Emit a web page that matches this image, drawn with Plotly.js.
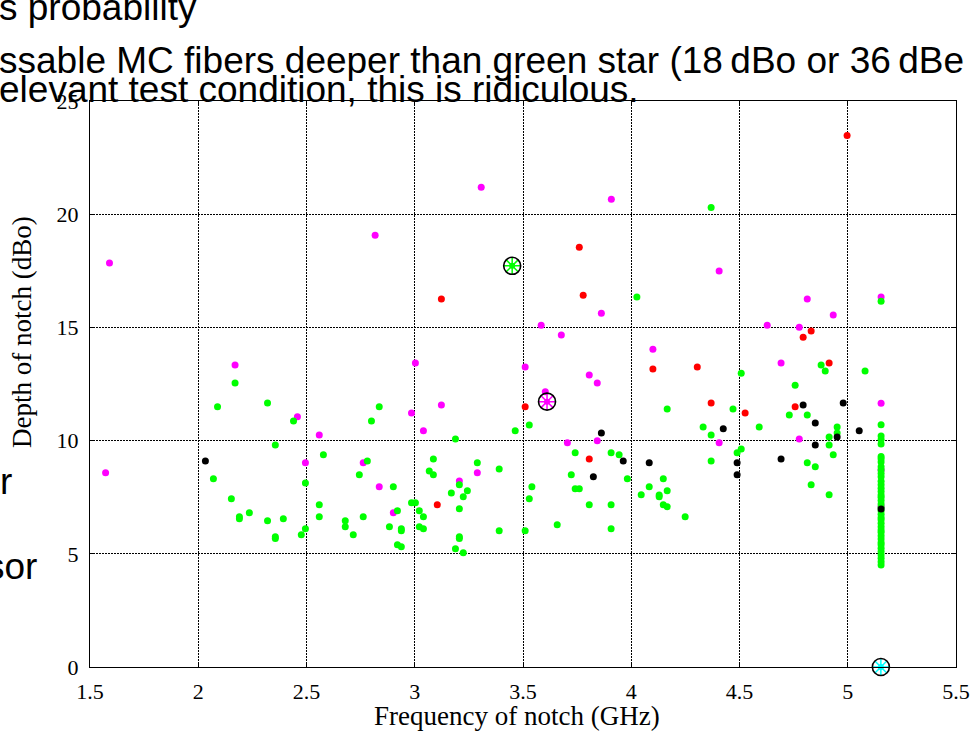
<!DOCTYPE html>
<html><head><meta charset="utf-8">
<script src="https://cdn.plot.ly/plotly-3.0.1.min.js"></script>
<style>body{margin:0;background:#fff}#chart{width:975px;height:737px}</style>
</head><body><div id="chart"></div>
<script>
// ---- data (frequency GHz, depth dBo) ----
const greenX = [2.17,2.089,2.32,2.44,2.356,2.07,2.578,2.495,2.153,2.19,2.19,2.236,2.32,2.393,2.356,2.356,2.476,2.495,2.559,2.559,2.679,2.679,2.716,2.762,2.744,2.781,2.836,2.80,
 3.188,3.529,3.464,3.741,3.907,3.944,3.723,3.982,4.166,4.148,4.083,4.046,4.166,4.129,4.129,4.148,4.166,3.741,3.76,3.806,3.907,3.658,3.907,3.51,3.39,3.541,3.529,3.39,3.289,3.206,3.243,3.224,3.169,3.206,3.206,3.206,3.188,3.224,3.086,3.067,3.086,2.985,3.003,3.021,3.04,3.021,3.04,2.901,2.92,2.883,2.938,2.938,2.92,2.938,
 4.026,4.369,5.154,4.877,4.896,4.508,4.757,5.08,4.47,4.332,4.369,4.369,4.508,4.489,4.591,4.73,4.813,4.813,4.85,4.831,4.914,4.914,4.914,4.933,4.951,4.951,4.249];
const greenY = [12.54,11.49,11.66,10.87,9.81,8.31,9.37,8.13,7.43,6.64,6.55,6.81,6.46,6.55,5.75,5.68,5.84,6.11,7.17,6.64,6.46,6.19,5.84,6.64,8.49,9.1,11.49,10.87,
 10.07,10.69,10.43,9.46,9.46,9.37,8.49,8.31,11.40,8.31,7.96,7.61,7.78,7.6,7.52,7.17,7.08,7.87,7.87,7.17,7.17,6.28,6.11,6.02,6.02,7.96,7.43,8.75,9.02,8.05,7.78,7.52,7.69,6.99,5.75,5.68,5.22,5.05,9.19,8.66,8.49,7.25,7.25,6.9,6.64,6.19,6.11,7.96,6.9,6.19,6.11,6.02,5.4,5.31,
 16.34,20.30,16.16,13.34,13.07,12.98,12.45,13.07,11.40,10.6,10.25,9.1,9.63,9.46,10.6,11.13,11.13,9.02,8.84,8.05,7.61,10.16,9.81,9.37,10.6,10.34,6.64];
// vertical column of green detections at 5.154 GHz
const columnX = 5.154;
const columnY = [10.7,10.2,10.05,9.85,9.3,9.2,9.05,8.85,8.7,8.55,8.4,8.2,8.05,7.9,7.75,7.6,7.5,7.35,7.2,7.05,6.9,6.75,6.6,6.5,6.35,6.2,6.05,5.95,5.8,5.65,5.5,5.4,5.25,5.1,4.95,4.8,4.65,4.5];
const magentaX = [1.59,2.817,2.17,3.307,3.908,3.862,3.584,3.677,3.003,3.51,4.10,3.806,3.843,3.603,4.406,4.813,5.154,4.933,4.628,4.776,4.692,2.458,2.559,1.572,2.495,2.762,2.836,3.123,2.985,3.04,3.705,3.843,3.289,3.206,2.901,4.406,4.776,5.154,5.154,5.154];
const magentaY = [17.84,19.07,13.34,21.19,20.66,15.63,15.10,14.66,13.43,13.25,14.04,12.90,12.54,12.16,17.49,16.25,16.34,15.55,15.10,15.01,13.43,11.05,10.25,8.58,9.02,9.02,7.96,11.57,11.22,10.43,9.9,9.99,8.58,8.22,6.81,9.9,10.07,11.65,8.7,7.1];
const redX = [3.81,3.76,3.123,3.778,4.10,4.997,4.831,4.794,4.305,4.914,3.51,3.806,3.104,4.369,4.526,4.757];
const redY = [26.1,18.54,16.25,16.42,13.16,23.48,14.84,14.57,13.25,13.43,11.49,9.19,7.17,11.66,11.22,11.49];
const blackX = [2.033,3.862,3.963,4.083,3.825,4.425,4.489,4.489,4.794,4.85,4.85,4.692,4.951,4.979,5.053,5.154];
const blackY = [9.1,10.34,9.1,9.02,8.4,10.52,9.02,8.49,11.57,10.78,9.81,9.19,10.16,11.66,10.43,6.98];
const starX = [3.45,3.611,5.153];
const starY = [17.72,11.72,0];
const starColors = ['#00ff00','#ff00ff','#00ffff'];
const xTicks = [1.5,2,2.5,3,3.5,4,4.5,5,5.5];
const xTickText = ['1.5','2','2.5','3','3.5','4','4.5','5','5.5'];
const yTicks = [0,5,10,15,20,25];
const yTickText = ['0','5','10','15','20','25'];
const textLines = ['s probability','ssable MC fibers deeper than green star (18\u2009dBo or 36\u2009dBe','elevant test condition, this is ridiculous.'];
const sideTexts = ['r','sor'];
const xLabel = 'Frequency of notch (GHz)';
const yLabel = 'Depth of notch (dBo)';

// ---- layout helpers ----
const L=90, T=101, W=866, H=566, FW=975, FH=737;
const px = x => (x - L)/W;
const py = y => (T + H - y)/H;

const allGreenX = greenX.concat(columnY.map(()=>columnX));
const allGreenY = greenY.concat(columnY);

function dots(x,y,color,clip){
  return {type:'scatter',mode:'markers',x:x,y:y,cliponaxis:clip,hoverinfo:'skip',
    marker:{size:7,color:color,line:{width:0}}};
}
const traces = [
  dots(magentaX,magentaY,'#ff00ff',true),
  dots(allGreenX,allGreenY,'#00ff00',true),
  dots(redX,redY,'#ff0000',false),
  dots(blackX,blackY,'#000000',true),
  {type:'scatter',mode:'markers',x:starX,y:starY,cliponaxis:false,hoverinfo:'skip',
    marker:{size:6,color:starColors,line:{width:0}}},
  {type:'scatter',mode:'markers',x:starX,y:starY,cliponaxis:false,hoverinfo:'skip',
    marker:{symbol:'asterisk-open',size:14,color:starColors,line:{width:1.5,color:starColors}}},
  {type:'scatter',mode:'markers',x:starX,y:starY,cliponaxis:false,hoverinfo:'skip',
    marker:{symbol:'circle-open',size:17,color:'#000',line:{width:1.6,color:'#000'}}}
];

const big = {family:'Liberation Sans, Arial, sans-serif',size:37,color:'#000'};
const serif = {family:'Liberation Serif, Times New Roman, serif',size:27,color:'#000'};
function ann(text,x,y,xa,font,extra){
  return Object.assign({text:text,xref:'paper',yref:'paper',x:px(x),y:py(y),xanchor:xa,yanchor:'middle',
    showarrow:false,font:font,borderpad:0},extra||{});
}
const annotations = [
  ann(textLines[0],-2,8,'left',big),
  ann(textLines[1],-2,61,'left',big),
  ann(textLines[2],-2,89,'left',big),
  ann(sideTexts[0],13,481,'right',big),
  ann(sideTexts[1],38,566,'right',big),
  ann(xLabel,517,716,'center',serif),
  ann(yLabel,22,332,'center',serif,{textangle:-90})
];

const axisCommon = {
  showgrid:true,gridcolor:'#000',gridwidth:1,griddash:'2px,1px',
  showline:true,linecolor:'#000',linewidth:1,mirror:'ticks',
  ticks:'inside',ticklen:5,tickcolor:'#000',zeroline:false,
  tickfont:{family:'Liberation Serif, Times New Roman, serif',size:22,color:'#000'}
};
const layout = {
  width:FW,height:FH,margin:{l:L,r:FW-L-W,t:T,b:FH-T-H,pad:0},
  paper_bgcolor:'#fff',plot_bgcolor:'#fff',showlegend:false,
  xaxis:Object.assign({},axisCommon,{range:[1.5,5.5],tickmode:'array',tickvals:xTicks,ticktext:xTickText,ticklabelstandoff:5}),
  yaxis:Object.assign({},axisCommon,{range:[0,25],tickmode:'array',tickvals:yTicks,ticktext:yTickText,ticklabelstandoff:6}),
  annotations:annotations
};
Plotly.newPlot('chart',traces,layout,{staticPlot:true});
</script></body></html>
